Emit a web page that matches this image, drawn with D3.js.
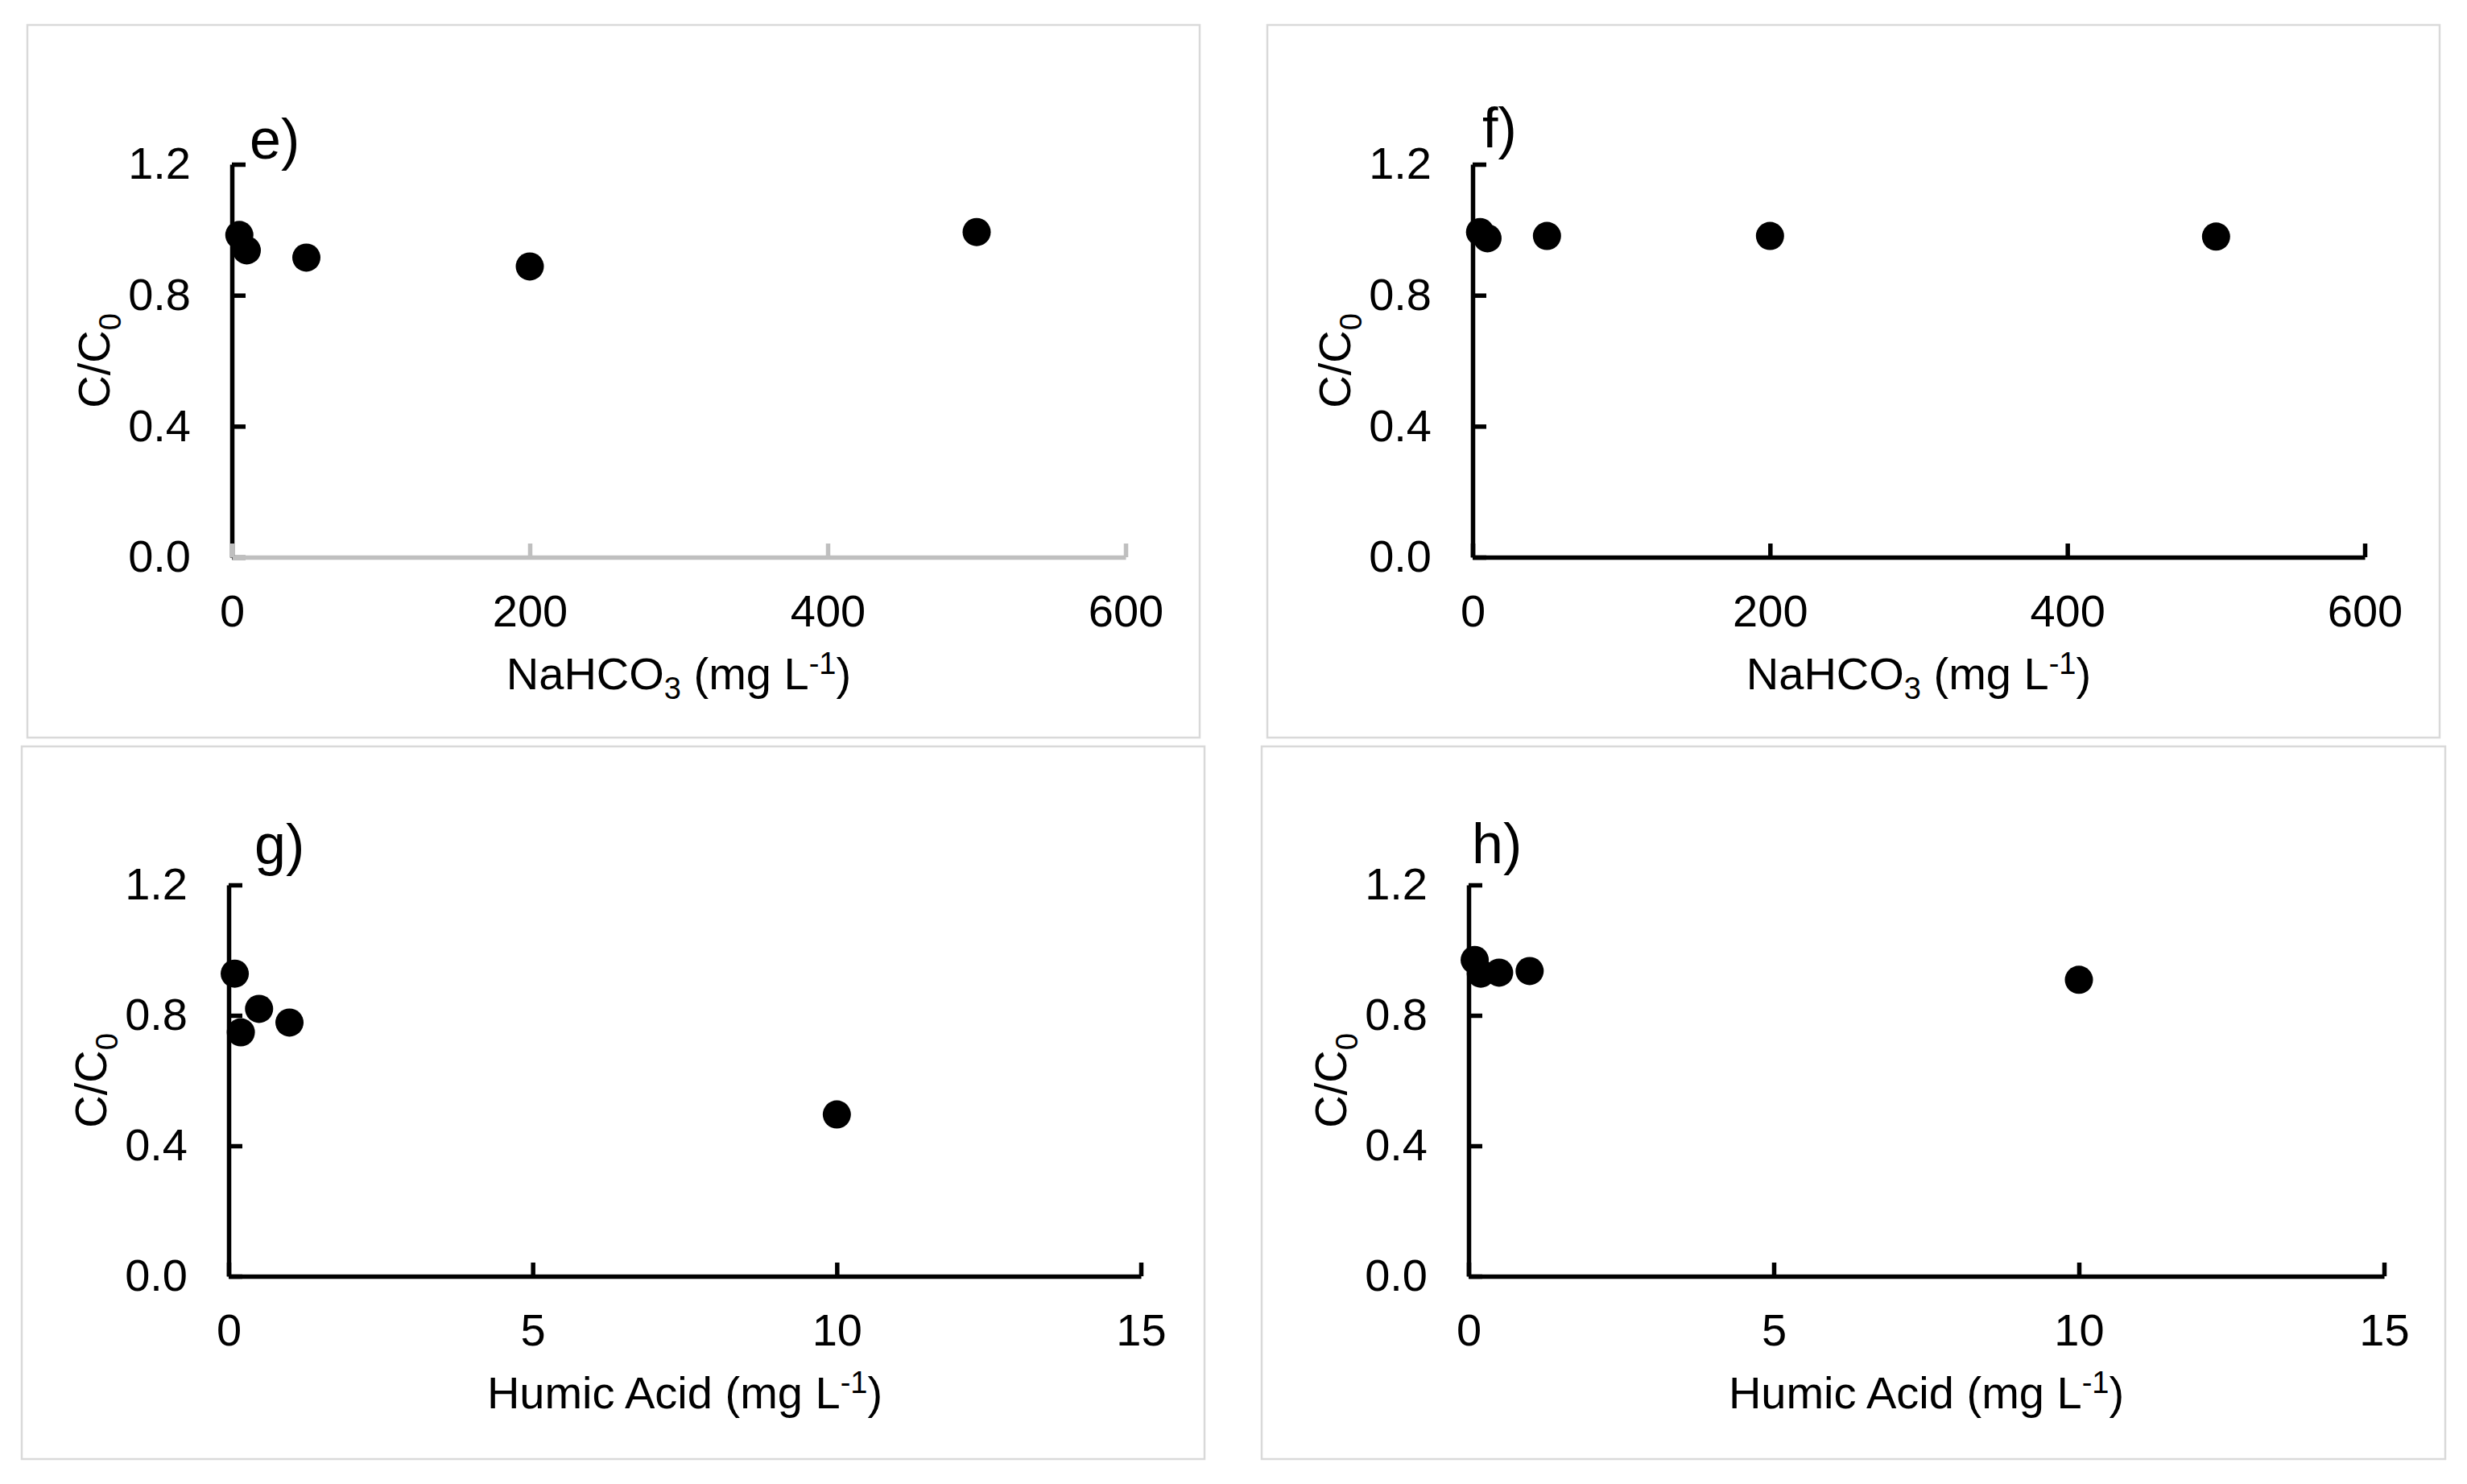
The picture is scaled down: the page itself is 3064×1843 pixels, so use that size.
<!DOCTYPE html>
<html>
<head>
<meta charset="utf-8">
<script src="https://cdn.jsdelivr.net/npm/d3@7/dist/d3.min.js"></script>
<style>
  body { margin: 0; background: #fff; }
  text { font-family: "Liberation Sans", Arial, sans-serif; }
</style>
</head>
<body>
<script>
// Needed Variables
const width = 3064;
const height = 1843;

// Data
const nahco3 = [5, 10, 50, 200, 500];                 // NaHCO3 (mg/L)
const ratioE = [0.984, 0.937, 0.915, 0.888, 0.993];  // panel e
const ratioF = [0.993, 0.974, 0.981, 0.981, 0.979];  // panel f
const humic = [0.1, 0.2, 0.5, 1, 10];                // Humic acid (mg/L)
const ratioG = [0.928, 0.748, 0.820, 0.778, 0.496];  // panel g
const ratioH = [0.970, 0.928, 0.931, 0.936, 0.909];  // panel h

const yTicks = [0, 0.4, 0.8, 1.2];
const nahco3Ticks = [0, 200, 400, 600];
const humicTicks = [0, 5, 10, 15];
const panelLabels = ['e)', 'f)', 'g)', 'h)'];

// Layout of the four panels
const panels = [
  {box: [34, 31, 1490, 916], x0: 288, x1: 1398, yTop: 204, yBot: 692, xMax: 600, xTicks: nahco3Ticks,
   xs: nahco3, ys: ratioE, title: 'nahco3', label: panelLabels[0], lab: [310, 197], xColor: '#bfbfbf'},
  {box: [1574, 31, 3030, 916], x0: 1829, x1: 2937, yTop: 204, yBot: 692, xMax: 600, xTicks: nahco3Ticks,
   xs: nahco3, ys: ratioF, title: 'nahco3', label: panelLabels[1], lab: [1841, 183], xColor: '#000'},
  {box: [27, 927, 1496, 1812], x0: 284, x1: 1417, yTop: 1099, yBot: 1585, xMax: 15, xTicks: humicTicks,
   xs: humic, ys: ratioG, title: 'humic', label: panelLabels[2], lab: [316, 1073], xColor: '#000'},
  {box: [1567, 927, 3037, 1812], x0: 1824, x1: 2961, yTop: 1099, yBot: 1585, xMax: 15, xTicks: humicTicks,
   xs: humic, ys: ratioH, title: 'humic', label: panelLabels[3], lab: [1828, 1072], xColor: '#000'}
];

const svg = d3.select('body')
  .append('svg')
  .attr('width', width)
  .attr('height', height);

function styleAxis(sel, color){
  sel.attr('font-size', 56)
     .attr('font-family', '"Liberation Sans", Arial, sans-serif');
  sel.select('.domain').attr('stroke', color).attr('stroke-width', 5.5);
  sel.selectAll('.tick line').attr('stroke', color).attr('stroke-width', 5.5);
  sel.selectAll('.tick text').attr('fill', '#000');
}

function render(p){
  const g = svg.append('g');

  // chart area border
  g.append('rect')
    .attr('x', p.box[0]).attr('y', p.box[1])
    .attr('width', p.box[2] - p.box[0]).attr('height', p.box[3] - p.box[1])
    .attr('fill', 'none').attr('stroke', '#d9d9d9').attr('stroke-width', 2.5);

  const x = d3.scaleLinear().domain([0, p.xMax]).range([p.x0, p.x1]);
  const y = d3.scaleLinear().domain([0, 1.2]).range([p.yBot, p.yTop]);

  // y axis
  g.append('g')
    .attr('transform', `translate(${p.x0},0)`)
    .call(d3.axisLeft(y).tickValues(yTicks).tickFormat(d3.format('.1f'))
      .tickSizeInner(-17).tickSizeOuter(0).tickPadding(51))
    .call(styleAxis, '#000');

  // x axis (drawn on top of y axis)
  g.append('g')
    .attr('transform', `translate(0,${p.yBot})`)
    .call(d3.axisBottom(x).tickValues(p.xTicks).tickFormat(d3.format('d'))
      .tickSizeInner(-17).tickSizeOuter(0).tickPadding(46))
    .call(styleAxis, p.xColor);

  // points
  g.append('g')
    .selectAll('circle')
    .data(p.xs.map((d, i) => [d, p.ys[i]]))
    .join('circle')
    .attr('cx', d => x(d[0]))
    .attr('cy', d => y(d[1]))
    .attr('r', 17.5)
    .attr('fill', '#000');

  // y title C/C0
  const yt = g.append('text')
    .attr('transform', `translate(${p.x0 - 152},${(p.yTop + p.yBot) / 2}) rotate(-90)`)
    .attr('text-anchor', 'middle')
    .attr('font-size', 56);
  yt.append('tspan').text('C/C');
  yt.append('tspan').attr('font-size', 38).attr('dy', 14).text('0');

  // x title
  const xt = g.append('text')
    .attr('x', (p.x0 + p.x1) / 2)
    .attr('y', p.yBot + 164)
    .attr('text-anchor', 'middle')
    .attr('font-size', 56);
  if (p.title === 'nahco3'){
    xt.append('tspan').text('NaHCO');
    xt.append('tspan').attr('font-size', 38).attr('dy', 12).text('3');
    xt.append('tspan').attr('dy', -12).text(' (mg L');
  } else {
    xt.append('tspan').text('Humic Acid (mg L');
  }
  xt.append('tspan').attr('font-size', 38).attr('dy', -19).text('-1');
  xt.append('tspan').attr('dy', 19).text(')');

  // panel label
  g.append('text')
    .attr('x', p.lab[0]).attr('y', p.lab[1])
    .attr('font-size', 70)
    .text(p.label);
}

panels.forEach(render);
</script>
</body>
</html>
